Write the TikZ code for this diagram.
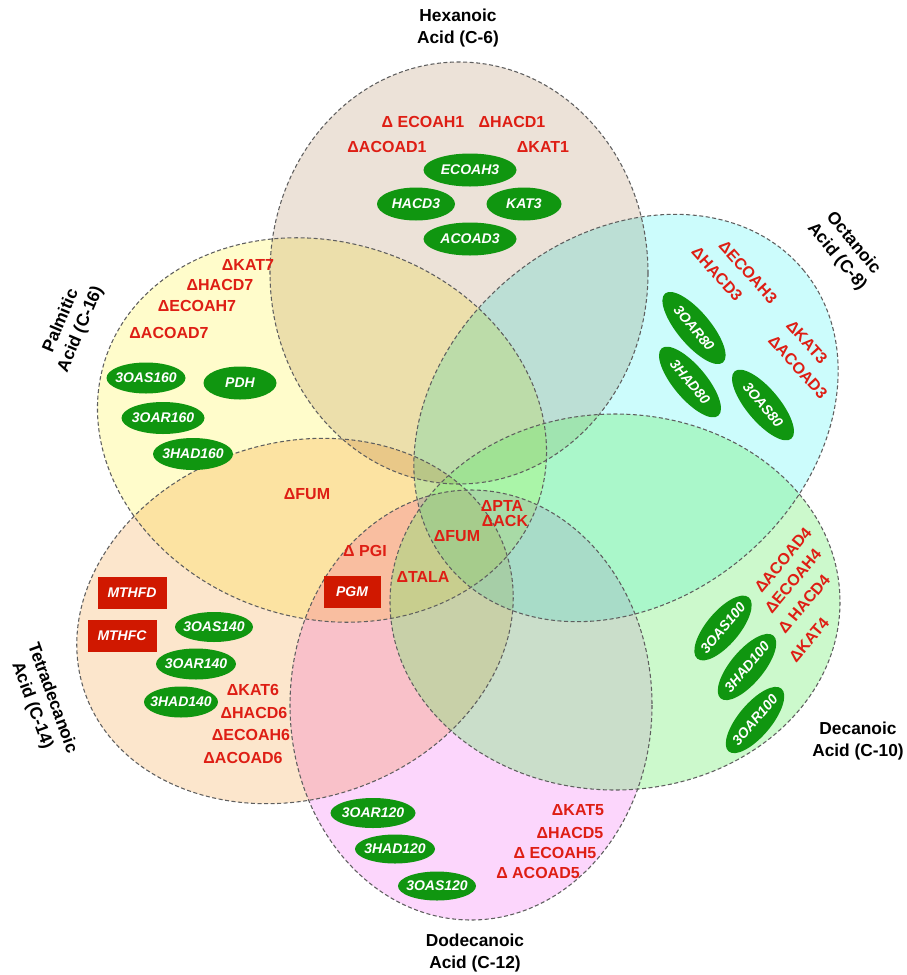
\documentclass[tikz,border=0pt]{standalone}
\usepackage{fontspec}
\setmainfont{Liberation Sans}
\usetikzlibrary{shapes.geometric}

\definecolor{hexfill}{RGB}{236,226,216}
\definecolor{octfill}{RGB}{204,252,252}
\definecolor{decfill}{RGB}{109,238,109}
\definecolor{dodfill}{RGB}{252,214,252}
\definecolor{tetfill}{RGB}{252,230,204}
\definecolor{palfill}{RGB}{255,252,203}
\definecolor{kored}{RGB}{222,30,20}
\definecolor{enzgreen}{RGB}{16,150,16}
\definecolor{boxred}{RGB}{208,24,0}
\definecolor{rim}{RGB}{95,95,95}

\tikzset{
  setrim/.style={draw=rim, line width=0.8pt, dash pattern=on 3pt off 1.9pt},
  ko/.style={text=kored, font=\bfseries\fontsize{12}{13}\selectfont, inner sep=0pt},
  enz/.style 2 args={ellipse, fill=enzgreen, text=white,
    font=\bfseries\itshape\fontsize{10.5}{11}\selectfont, inner sep=0pt,
    minimum width=#1*0.75pt, minimum height=#2*0.75pt},
  redbox/.style 2 args={rectangle, fill=boxred, text=white,
    font=\bfseries\itshape\fontsize{10.5}{11}\selectfont, inner sep=0pt,
    minimum width=#1*0.75pt, minimum height=#2*0.75pt},
  settitle/.style={font=\bfseries\fontsize{13}{16}\selectfont, align=center, inner sep=0pt},
}
\newcommand{\ez}[1]{\makebox[0pt]{#1}}

\begin{document}
\begin{tikzpicture}[x=0.75pt,y=-0.75pt]
\useasboundingbox (0,0) rectangle (907,975);
\fill[white] (0,0) rectangle (907,975);

% five of the fatty-acid sets, tinted so that overlaps darken
\begin{scope}[blend group=multiply]
\foreach \cx/\cy/\rx/\ry/\rot/\col in {
    459/273/189/211/0/hexfill,
    626/418/231/182/40/octfill,
    471/705/181/215/0/dodfill,
    295/621/222/178/18/tetfill,
    322/430/228/188/-18/palfill}
  \fill[fill=\col, rotate around={\rot:(\cx,\cy)}] (\cx,\cy) ellipse [x radius=\rx, y radius=\ry];
\end{scope}
% decanoic set laid over the others as a translucent green
\fill[decfill, fill opacity=0.35] (615,602) ellipse [x radius=225, y radius=188];

% dashed outlines of all six sets
\foreach \cx/\cy/\rx/\ry/\rot in {
    459/273/189/211/0,
    626/418/231/182/40,
    615/602/225/188/0,
    471/705/181/215/0,
    295/621/222/178/18,
    322/430/228/188/-18}
  \draw[setrim, rotate around={\rot:(\cx,\cy)}] (\cx,\cy) ellipse [x radius=\rx, y radius=\ry];

% set titles
\node[settitle] (tHex) at (458,28) {Hexanoic\\Acid (C-6)};
\node[settitle, rotate=-50] (tOct) at (845,250) {Octanoic\\Acid (C-8)};
\node[settitle] (tDec) at (858,741) {Decanoic\\Acid (C-10)};
\node[settitle] (tDod) at (475,953) {Dodecanoic\\Acid (C-12)};
\node[settitle, rotate=-70] (tTet) at (42,702) {Tetradecanoic\\Acid (C-14)};
\node[settitle, rotate=67] (tPal) at (71,325) {Palmitic\\Acid (C-16)};

% hexanoic acid
\node[ko] (k1) at (423,122) {Δ ECOAH1};
\node[ko] (k2) at (512,122) {ΔHACD1};
\node[ko] (k3) at (387,147) {ΔACOAD1};
\node[ko] (k4) at (543,147) {ΔKAT1};
\node[enz={93}{33}] (e1) at (470,170) {\ez{ECOAH3}};
\node[enz={78}{33}] (e2) at (416,204) {\ez{HACD3}};
\node[enz={75}{33}] (e3) at (524,204) {\ez{KAT3}};
\node[enz={93}{33}] (e4) at (470,239) {\ez{ACOAD3}};

% palmitic acid
\node[ko] (k5) at (248,265) {ΔKAT7};
\node[ko] (k6) at (220,285) {ΔHACD7};
\node[ko] (k7) at (197,306) {ΔECOAH7};
\node[ko] (k8) at (169,333) {ΔACOAD7};
\node[enz={79}{31}] (e5) at (146,378) {\ez{3OAS160}};
\node[enz={73}{33}] (e6) at (240,383) {\ez{PDH}};
\node[enz={83}{32}] (e7) at (163,418) {\ez{3OAR160}};
\node[enz={80}{32}] (e8) at (193,454) {\ez{3HAD160}};
\node[ko] (k9) at (307,494) {ΔFUM};

% octanoic acid
\node[ko, rotate=-48] (k10) at (748,272) {ΔECOAH3};
\node[ko, rotate=-48] (k11) at (717,274) {ΔHACD3};
\node[ko, rotate=-48] (k12) at (807,342) {ΔKAT3};
\node[ko, rotate=-48] (k13) at (798,367) {ΔACOAD3};
\node[enz={90}{33}, rotate=-50] (e9) at (694,328) {\ez{3OAR80}};
\node[enz={88}{33}, rotate=-50] (e10) at (690,382) {\ez{3HAD80}};
\node[enz={88}{33}, rotate=-50] (e11) at (763,405) {\ez{3OAS80}};

% decanoic acid
\node[ko, rotate=50] (k14) at (783,560) {ΔACOAD4};
\node[ko, rotate=50] (k15) at (793,581) {ΔECOAH4};
\node[ko, rotate=50] (k16) at (804,604) {Δ HACD4};
\node[ko, rotate=50] (k17) at (809,640) {ΔKAT4};
\node[enz={80}{33}, rotate=50] (e12) at (723,628) {\ez{3OAS100}};
\node[enz={82}{33}, rotate=50] (e13) at (747,667) {\ez{3HAD100}};
\node[enz={82}{33}, rotate=50] (e14) at (755,720) {\ez{3OAR100}};

% dodecanoic acid
\node[enz={85}{30}] (e15) at (373,813) {\ez{3OAR120}};
\node[enz={80}{29}] (e16) at (395,849) {\ez{3HAD120}};
\node[enz={78}{29}] (e17) at (437,886) {\ez{3OAS120}};
\node[ko] (k18) at (578,810) {ΔKAT5};
\node[ko] (k19) at (570,833) {ΔHACD5};
\node[ko] (k20) at (555,853) {Δ ECOAH5};
\node[ko] (k21) at (538,873) {Δ ACOAD5};

% tetradecanoic acid
\node[redbox={69}{32}] (b1) at (132,593) {MTHFD};
\node[redbox={69}{32}] (b2) at (122,636) {MTHFC};
\node[enz={78}{30}] (e18) at (214,627) {\ez{3OAS140}};
\node[enz={80}{31}] (e19) at (196,664) {\ez{3OAR140}};
\node[enz={74}{31}] (e20) at (181,702) {\ez{3HAD140}};
\node[ko] (k22) at (253,690) {ΔKAT6};
\node[ko] (k23) at (254,713) {ΔHACD6};
\node[ko] (k24) at (251,735) {ΔECOAH6};
\node[ko] (k25) at (243,758) {ΔACOAD6};

% shared knockouts near the centre
\node[ko] (k26) at (502,506) {ΔPTA};
\node[ko] (k27) at (505,521) {ΔACK};
\node[ko] (k28) at (457,536) {ΔFUM};
\node[ko] (k29) at (365,551) {Δ PGI};
\node[ko] (k30) at (423,577) {ΔTALA};
\node[redbox={57}{32}] (b3) at (352,592) {PGM};
\end{tikzpicture}
\end{document}
